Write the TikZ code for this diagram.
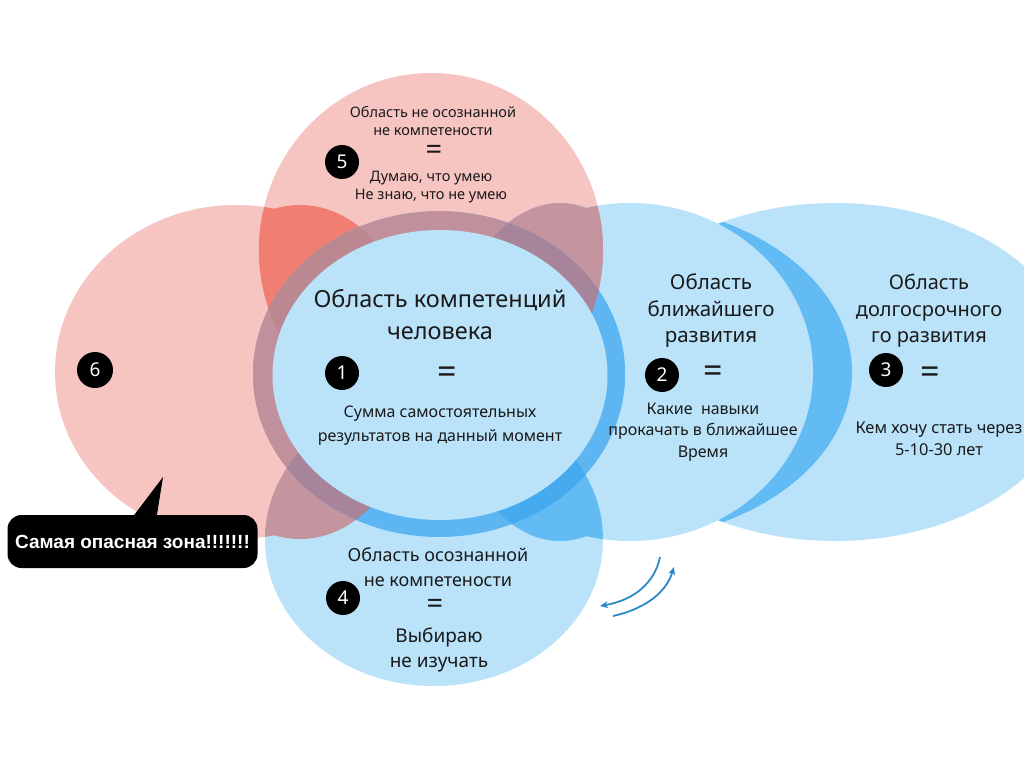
\documentclass[tikz,border=0pt]{standalone}
\usepackage{fontspec}
\setmainfont{Noto Sans}
\newfontfamily\calloutfont{Liberation Sans}
\usetikzlibrary{arrows.meta}
\definecolor{pinkC}{HTML}{F6C4C1}
\definecolor{lblueC}{HTML}{BAE3FA}
\definecolor{redC}{HTML}{F07E73}
\definecolor{mauveC}{HTML}{C4949F}
\definecolor{dblueC}{HTML}{62BBF3}
\definecolor{ringPinkC}{HTML}{C0919D}
\definecolor{ringRedC}{HTML}{BB8791}
\definecolor{ringMauveC}{HTML}{A8849B}
\definecolor{ringBlueC}{HTML}{5DB6F2}
\definecolor{ringDBlueC}{HTML}{45ABEE}
\definecolor{txtC}{HTML}{1A1A1A}
\definecolor{arrowC}{HTML}{2A8AC8}
\newcommand\myfs[2]{\fontsize{#1}{#2}\selectfont}
\def\Eone{(439,374) ellipse [x radius=186, y radius=163]}
\def\Eonei{(440,375) ellipse [x radius=167.5, y radius=145]}
\def\Etwoa{(630,372) ellipse [x radius=183, y radius=169]}
\def\Etwob{(560,372) ellipse [x radius=110, y radius=169]}
\def\Ethree{(835,372) ellipse [x radius=243, y radius=169]}
\def\Edark{(613,372) ellipse [x radius=239, y radius=169]}
\def\Efour{(434,540) ellipse [x radius=169, y radius=146]}
\def\Efive{(431,250) ellipse [x radius=172, y radius=177]}
\def\Esixa{(236,372) ellipse [x radius=181, y radius=167]}
\def\Esixb{(300,372) ellipse [x radius=120, y radius=167]}
\begin{document}
\begin{tikzpicture}[x=1pt,y=-1pt,
  txt/.style={text=txtC, align=center, inner sep=0pt},
  badge/.style={circle, fill=black, text=white, minimum size=34pt, inner sep=0pt, font=\myfs{19}{19}},
  eqs/.style={text=txtC, inner sep=0pt, font=\bfseries\myfs{34}{34}},
  arr/.style={draw=arrowC, line width=1.8pt, -{Stealth[length=8pt,width=7pt]}}]
\useasboundingbox (0,0) rectangle (1024,767);
\fill[white] (0,0) rectangle (1024,767);
% far right and its crescent
\fill[lblueC] \Ethree;
\begin{scope}\clip \Ethree; \fill[dblueC] \Edark; \end{scope}
% base shapes
\fill[pinkC] \Esixa; \fill[pinkC] \Esixb;
\fill[pinkC] \Efive;
\fill[lblueC] \Etwoa; \fill[lblueC] \Etwob;
\fill[lblueC] \Efour;
% overlaps
\begin{scope}\clip \Efive; \fill[redC] \Esixa; \fill[redC] \Esixb; \end{scope}
\begin{scope}\clip \Efive; \fill[mauveC] \Etwoa; \fill[mauveC] \Etwob; \end{scope}
\begin{scope}\clip \Efour; \fill[mauveC] \Esixa; \fill[mauveC] \Esixb; \end{scope}
\begin{scope}\clip \Efour; \fill[dblueC] \Etwoa; \fill[dblueC] \Etwob; \end{scope}
% ring of the centre circle
\begin{scope}
  \clip \Eone;
  \fill[lblueC] \Eone;
  \fill[ringPinkC] \Esixa; \fill[ringPinkC] \Esixb; \fill[ringPinkC] \Efive;
  \fill[ringBlueC] \Etwoa; \fill[ringBlueC] \Etwob; \fill[ringBlueC] \Efour;
  \begin{scope}\clip \Efive; \fill[ringRedC] \Esixa; \fill[ringRedC] \Esixb; \end{scope}
  \begin{scope}\clip \Efive; \fill[ringMauveC] \Etwoa; \fill[ringMauveC] \Etwob; \end{scope}
  \begin{scope}\clip \Efour; \fill[ringMauveC] \Esixa; \fill[ringMauveC] \Esixb; \end{scope}
  \begin{scope}\clip \Efour; \fill[ringDBlueC] \Etwoa; \fill[ringDBlueC] \Etwob; \end{scope}
\end{scope}
\fill[lblueC] \Eonei;
% zone 5
\node[txt, font=\myfs{14.5}{18}] (t5a) at (433,121) {Область не осознанной\\не компетености};
\node[eqs, font=\bfseries\myfs{29}{29}] (t5eq) at (434,152) {=};
\node[txt, font=\myfs{14.5}{18}] (t5b) at (431,187) {Думаю, что умею\\Не знаю, что не умею};
\node[badge] (b5) at (342,162) {5};
% zone 1
\node[txt, font=\myfs{23.5}{32}] (t1a) at (440,315) {Область компетенций\\человека};
\node[badge] (b1) at (342,373) {1};
\node[eqs] (t1eq) at (447,375) {=};
\node[txt, font=\myfs{16}{24}] (t1b) at (440,426) {Сумма самостоятельных\\результатов на данный момент};
% zone 2
\node[txt, font=\myfs{20.5}{26.5}] (t2a) at (711,311) {Область\\ближайшего\\развития};
\node[badge] (b2) at (662,375) {2};
\node[eqs] (t2eq) at (713,374) {=};
\node[txt, font=\myfs{16}{21.5}] (t2b) at (703,432) {Какие\ \ навыки\\прокачать в ближайшее\\Время};
% zone 3
\node[txt, font=\myfs{20}{26.5}] (t3a) at (929,311) {Область\\долгосрочного\\го развития};
\node[badge] (b3) at (886,370) {3};
\node[eqs] (t3eq) at (930,375) {=};
\node[txt, font=\myfs{16.4}{22}] (t3b) at (939,439) {Кем хочу стать через\\5-10-30 лет};
% zone 4
\node[txt, font=\myfs{18}{25}] (t4a) at (438,567) {Область осознанной\\не компетености};
\node[badge] (b4) at (343,598) {4};
\node[eqs, font=\bfseries\myfs{29}{29}] (t4eq) at (435,606) {=};
\node[txt, font=\myfs{19}{25}] (t4b) at (439,650) {Выбираю\\не изучать};
% zone 6
\node[badge, minimum size=36pt] (b6) at (95,370) {6};
% callout
\node[fill=black, rounded corners=14pt, minimum width=250pt, minimum height=53pt, inner sep=0pt,
      text=white, font=\calloutfont\bfseries\myfs{19}{19}] (callout) at (132.5,541.5) {Самая опасная зона!!!!!!!};
\coordinate (tip) at (163,477);
\fill[black] ([xshift=124pt,yshift=-4pt]callout.north west) -- (tip) -- ([xshift=149pt,yshift=-4pt]callout.north west) -- cycle;
% arrows
\coordinate (a1s) at (660,557); \coordinate (a1e) at (600,606);
\draw[arr] (a1s) .. controls (655,582) and (635,600) .. (a1e);
\coordinate (a2s) at (613,616); \coordinate (a2e) at (674,567);
\draw[arr] (a2s) .. controls (640,610) and (665,596) .. (a2e);
\end{tikzpicture}
\end{document}
